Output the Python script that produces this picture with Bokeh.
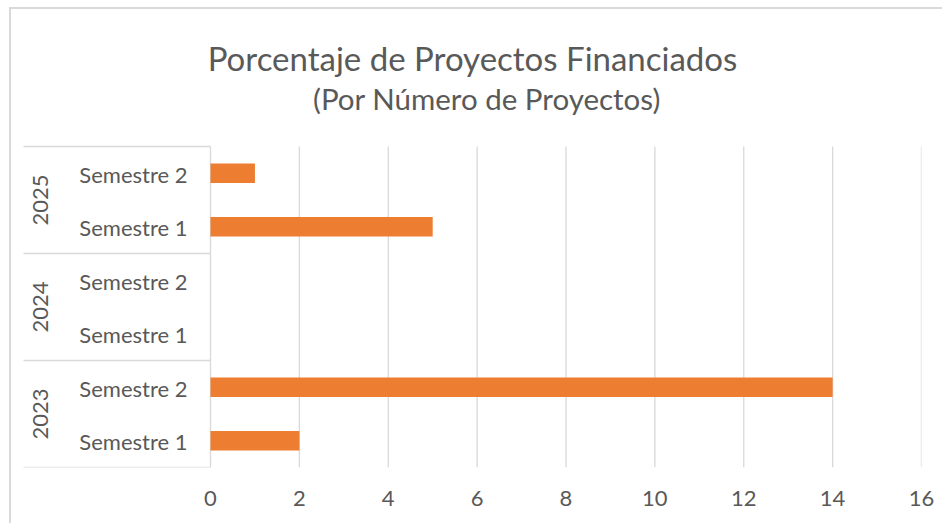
import numpy as np
from bokeh.plotting import figure
from bokeh.models import Range1d, FixedTicker, ColumnDataSource
from bokeh.core.properties import value
from bokeh.embed import file_html
from bokeh.resources import INLINE

# ---- data ----
years = ["2023", "2023", "2024", "2024", "2025", "2025"]
semestres = ["Semestre 1", "Semestre 2", "Semestre 1", "Semestre 2", "Semestre 1", "Semestre 2"]
proyectos = [2, 14, None, None, 5, 1]
x_ticks = [0, 2, 4, 6, 8, 10, 12, 14, 16]
title_text = "Porcentaje de Proyectos Financiados"
subtitle_text = "(Por Número de Proyectos)"

# ---- styling / layout ----
GRAY_TXT = "#595959"
GRID = "#d9d9d9"
BAR = "#ED7D31"
FONT = "Lato"

W, H = 933, 516
ML, MR, MT, MB = 3, 23, 0, 58
AXIS_X = 199            # canvas x of value 0
AREA_TOP = 137          # canvas y of plot-area top
px_per_unit = (W - MR - AXIS_X) / 16.0
x_start = -(AXIS_X - ML) / px_per_unit
x_end = 16
n = len(semestres)
px_per_cat = (H - MB - AREA_TOP) / n
y_top = (n - 0.5) + AREA_TOP / px_per_cat

idx = np.arange(n)
vals = np.array([np.nan if v is None else v for v in proyectos], dtype=float)

p = figure(width=W, height=H, output_backend="svg", toolbar_location=None,
           x_range=Range1d(x_start, x_end), y_range=Range1d(-0.5, y_top),
           min_border_left=ML, min_border_right=MR, min_border_top=MT, min_border_bottom=MB,
           outline_line_color=None, background_fill_color="white", border_fill_color="white")
p.styles = {"border-top": "2px solid #d9d9d9", "border-left": "2px solid #d9d9d9",
            "margin-left": "9px", "margin-top": "7px"}

# gridlines over the plot area only
p.xgrid.visible = False
p.ygrid.visible = False
p.segment(x0=x_ticks, y0=-0.5, x1=x_ticks, y1=n - 0.5, line_color=GRID, line_width=1.3)

# bars
src = ColumnDataSource(dict(y=idx, right=vals))
p.hbar(y="y", left=0, right="right", height=0.36, source=src, fill_color=BAR, line_color=None)

# axes
p.yaxis.visible = False
p.xaxis.ticker = FixedTicker(ticks=x_ticks)
p.xaxis.axis_line_color = None
p.xaxis.major_tick_line_color = None
p.xaxis.minor_tick_line_color = None
p.xaxis.major_tick_out = 0
p.xaxis.major_tick_in = 0
p.xaxis.major_label_standoff = 23
p.xaxis.major_label_text_font = FONT
p.xaxis.major_label_text_font_size = "22px"
p.xaxis.major_label_text_color = GRAY_TXT

# category labels (inner)
p.text(x=-23 / px_per_unit, y=idx, text=semestres, text_font=value(FONT), text_font_size="22px",
       text_color=GRAY_TXT, text_align="right", text_baseline="middle", y_offset=1)

# group labels (outer, rotated)
uniq = []
for y_ in years:
    if y_ not in uniq:
        uniq.append(y_)
centers = [float(np.mean([i for i, yy in enumerate(years) if yy == u])) for u in uniq]
p.text(x=-170 / px_per_unit, y=centers, text=uniq, angle=np.pi / 2, text_font=value(FONT),
       text_font_size="22px", text_color=GRAY_TXT, text_align="center", text_baseline="middle")

# separators between groups (and outer edges)
bounds = [-0.5] + [i - 0.5 for i in range(1, n) if years[i] != years[i - 1]] + [n - 0.5]
p.segment(x0=-187 / px_per_unit, y0=bounds, x1=0, y1=bounds, line_color=GRID, line_width=1.5)

# title + subtitle
p.text(x=[262 / px_per_unit], y=[(n - 0.5) + 89 / px_per_cat], text=[title_text],
       text_font=value(FONT), text_font_size="33px", text_color=GRAY_TXT,
       text_align="center", text_baseline="middle")
p.text(x=[276.5 / px_per_unit], y=[(n - 0.5) + 48.5 / px_per_cat], text=[subtitle_text],
       text_font=value(FONT), text_font_size="29.5px", text_color=GRAY_TXT,
       text_align="center", text_baseline="middle")

open("out.html", "w").write(file_html(p, INLINE))
